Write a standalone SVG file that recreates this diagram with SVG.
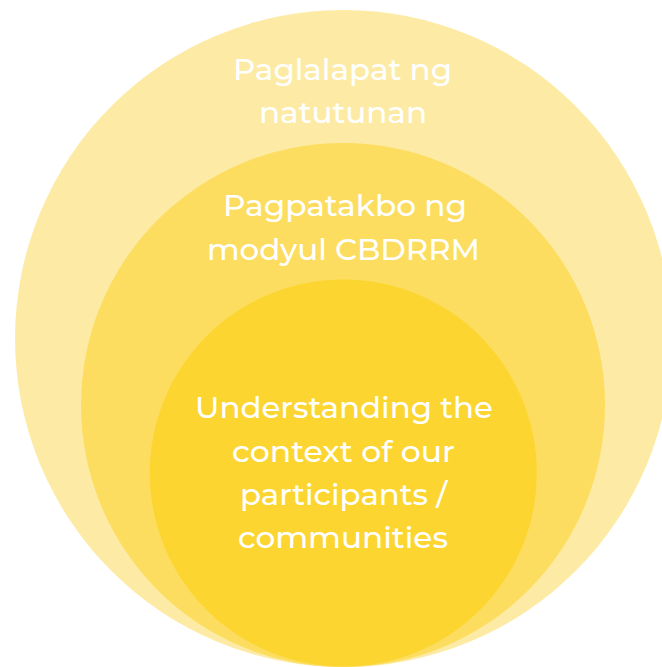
<svg xmlns="http://www.w3.org/2000/svg" width="662" height="667" viewBox="0 0 662 667">
<style>
.t{font-family:"Montserrat","Open Sans","Liberation Sans",sans-serif;font-size:30px;font-weight:500;fill:#ffffff;text-anchor:middle}
</style>
<rect width="662" height="667" fill="#ffffff"/>
<g id="outer">
<circle cx="343.5" cy="338.5" r="328.5" fill="#FDEBA5"/>
<text class="t" x="342.5" y="80" textLength="219" lengthAdjust="spacingAndGlyphs">Paglalapat ng</text>
<text class="t" x="343" y="123" textLength="168" lengthAdjust="spacingAndGlyphs">natutunan</text>
</g>
<g id="middle">
<circle cx="343" cy="405" r="262" fill="#FCDD5F"/>
<text class="t" x="345" y="216" textLength="244" lengthAdjust="spacingAndGlyphs">Pagpatakbo ng</text>
<text class="t" x="343.5" y="260" textLength="273" lengthAdjust="spacingAndGlyphs">modyul CBDRRM</text>
</g>
<g id="inner">
<circle cx="343.3" cy="473" r="193.5" fill="#FCD530"/>
<text class="t" x="344" y="418" textLength="298" lengthAdjust="spacingAndGlyphs">Understanding the</text>
<text class="t" x="343.5" y="462" textLength="223" lengthAdjust="spacingAndGlyphs">context of our</text>
<text class="t" x="343.5" y="505" textLength="207" lengthAdjust="spacingAndGlyphs">participants /</text>
<text class="t" x="343" y="548" textLength="210" lengthAdjust="spacingAndGlyphs">communities</text>
</g>
<g id="connectors"></g>
</svg>
